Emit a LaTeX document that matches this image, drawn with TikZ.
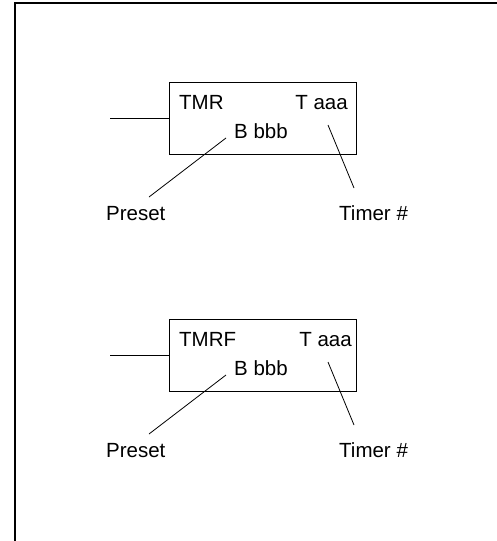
\documentclass[tikz,border=0pt]{standalone}
\usepackage{fontspec}
\setmainfont{Liberation Sans}
\usetikzlibrary{positioning}

\begin{document}
\begin{tikzpicture}[
    x=1pt, y=-1pt,
    instr/.style={draw, line width=0.9pt, minimum width=187pt, minimum height=72pt, inner sep=0pt},
    txt/.style={inner sep=0pt, font=\fontsize{20.5}{24}\selectfont},
    leader/.style={line width=0.8pt},
    every node/.style={font=\fontsize{20.5}{24}\selectfont}
]
\useasboundingbox (0,0) rectangle (497,541);

% Frame
\draw[line width=2pt] (15,541) -- (15,3) -- (497,3);

% TMR box
\node[instr] (tmr) at (262.5,118) {};
\coordinate (rung1) at (110,118);
\draw[leader] (rung1) -- (tmr.west);
\node[txt, anchor=base west] (name1) at (179,109) {TMR};
\node[txt, anchor=base east] (taaa1) at (348,109) {T aaa};
\node[txt, anchor=base west] (bbbb1) at (234,138) {B bbb};
\node[txt, anchor=base west] (preset1) at (106,220) {Preset};
\node[txt, anchor=base west] (timer1) at (339,220) {Timer \#};
\coordinate (p1a) at (226,138);
\coordinate (p1b) at (149,197);
\coordinate (t1a) at (328,125);
\coordinate (t1b) at (354,188);
\draw[leader] (p1a) -- (p1b);
\draw[leader] (t1a) -- (t1b);

% TMRF box
\node[instr] (tmrf) at (262.5,355) {};
\coordinate (rung2) at (110,355);
\draw[leader] (rung2) -- (tmrf.west);
\node[txt, anchor=base west] (name2) at (179,346) {TMRF};
\node[txt, anchor=base east] (taaa2) at (352,346) {T aaa};
\node[txt, anchor=base west] (bbbb2) at (234,375) {B bbb};
\node[txt, anchor=base west] (preset2) at (106,457) {Preset};
\node[txt, anchor=base west] (timer2) at (339,457) {Timer \#};
\coordinate (p2a) at (226,375);
\coordinate (p2b) at (149,434);
\coordinate (t2a) at (328,362);
\coordinate (t2b) at (354,425);
\draw[leader] (p2a) -- (p2b);
\draw[leader] (t2a) -- (t2b);

\end{tikzpicture}
\end{document}
